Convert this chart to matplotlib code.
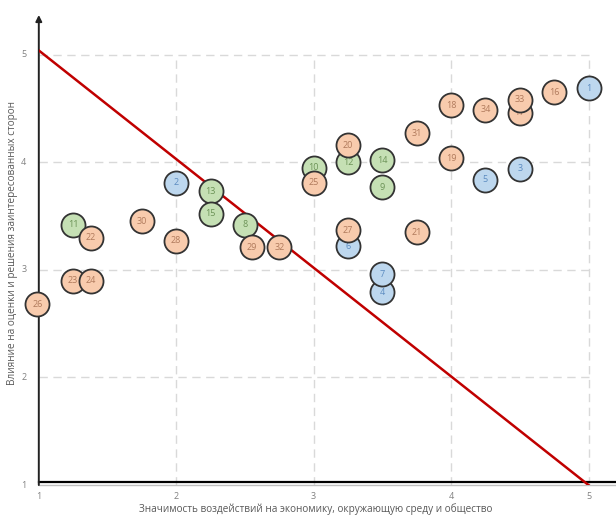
import matplotlib
matplotlib.use("Agg")
import matplotlib.pyplot as plt

ids = list(range(1, 35))
xs = [5.0, 2.0, 4.5, 3.5, 4.25, 3.25, 3.5, 2.5, 3.5, 3.0,
      1.25, 3.25, 2.25, 3.5, 2.25, 4.75, 4.5, 4.0, 4.0, 3.25,
      3.75, 1.38, 1.25, 1.38, 3.0, 0.99, 3.25, 2.0, 2.55, 1.75,
      3.75, 2.75, 4.5, 4.25]
ys = [4.69, 3.81, 3.94, 2.79, 3.84, 3.22, 2.96, 3.42, 3.77, 3.95,
      3.42, 4.0, 3.73, 4.02, 3.52, 4.65, 4.46, 4.53, 4.04, 4.16,
      3.35, 3.30, 2.90, 2.90, 3.81, 2.68, 3.37, 3.27, 3.21, 3.45,
      4.27, 3.21, 4.58, 4.49]
groups = ["b", "b", "b", "b", "b", "b", "b", "g", "g", "g",
          "g", "g", "g", "g", "g", "o", "o", "o", "o", "o",
          "o", "o", "o", "o", "o", "o", "o", "o", "o", "o",
          "o", "o", "o", "o"]
line_x = [1.0, 5.0]
line_y = [5.04, 1.0]
ticks = [1, 2, 3, 4, 5]
xlabel = "Значимость воздействий на экономику, окружающую среду и общество"
ylabel = "Влияние на оценки и решения заинтересованных сторон"

face = {"b": "#bdd7ee", "g": "#c5e0b4", "o": "#f8cbad"}
tcol = {"b": "#5b8bc0", "g": "#6b9256", "o": "#b07a5c"}

fig = plt.figure(figsize=(6.16, 5.16), dpi=100)
ax = fig.add_axes([0.063, 0.06, 0.937, 0.911])
ax.set_xlim(1, 5.2)
ax.set_ylim(1, 5.37)
for s in ax.spines.values():
    s.set_visible(False)

# grid
for t in [2, 3, 4, 5]:
    ax.plot([1, 5], [t, t], color="#d9d9d9", lw=1.0, ls=(0, (6, 4)), zorder=1)
    ax.plot([t, t], [1, 5], color="#d9d9d9", lw=1.0, ls=(0, (6, 4)), zorder=1)

# axes lines
ax.plot([1, 5.2], [1.0, 1.0], color="#bfbfbf", lw=1.0, zorder=2, clip_on=False)
ax.plot([1, 5.2], [1.025, 1.025], color="black", lw=1.6, zorder=3, clip_on=False)
ax.annotate("", xy=(1, 5.37), xytext=(1, 1.0),
            arrowprops=dict(arrowstyle="-|>", color="#222222", lw=1.4,
                            mutation_scale=9, shrinkA=0, shrinkB=0),
            zorder=3, annotation_clip=False)

# red line
ax.plot(line_x, line_y, color="#c00000", lw=1.8, zorder=4)

for i, x, y, g in zip(ids, xs, ys, groups):
    ax.scatter([x], [y], s=300, facecolor=face[g], edgecolor="#333333",
               linewidths=1.3, zorder=10 + i, clip_on=False)
    ax.text(x, y, str(i), ha="center", va="center", fontsize=6.5,
            color=tcol[g], zorder=10 + i, fontfamily="Open Sans")

ax.set_xticks([])
ax.set_yticks([])
for t in ticks:
    ax.text(t, 0.935, str(t), ha="center", va="top", fontsize=6.5,
            color="#808080", fontfamily="Open Sans", clip_on=False)
    ax.text(0.91, t, str(t), ha="right", va="center", fontsize=6.5,
            color="#808080", fontfamily="Open Sans", clip_on=False)

fig.text(0.512, 0.002, xlabel, ha="center", va="bottom", fontsize=7.2,
         color="#595959", fontfamily="Open Sans")
fig.text(0.02, 0.53, ylabel, ha="center", va="center", rotation=90,
         fontsize=7.2, color="#595959", fontfamily="Open Sans")

fig.savefig("out.png", dpi=100)
